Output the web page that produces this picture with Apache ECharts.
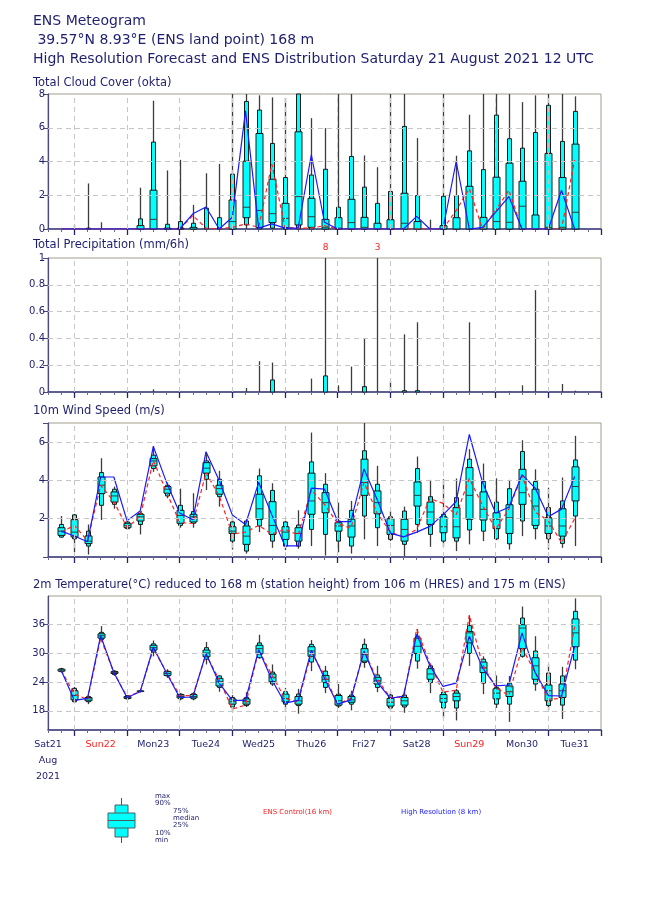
<!DOCTYPE html>
<html><head><meta charset="utf-8">
<script src="https://cdn.jsdelivr.net/npm/echarts@6/dist/echarts.min.js"></script>
<style>html,body{margin:0;padding:0;background:#fff}#c{width:650px;height:916px}</style>
</head><body><div id="c"></div>
<script>
// ---- data (hours after Sat 21 Aug 2021 12 UTC) ----
const steps = [6,12,18,24,30,36,42,48,54,60,66,72,78,84,90,96,102,108,114,120,126,132,138,144,150,156,162,168,174,180,186,192,198,204,210,216,222,228,234,240];
const dayLabelPos = [0,24,48,72,96,120,144,168,192,216,240];
const dayLabels = ['Sat21','Sun22','Mon23','Tue24','Wed25','Thu26','Fri27','Sat28','Sun29','Mon30','Tue31'];
const midnights = [12,36,60,84,108,132,156,180,204,228,252];

const cloudMax = [0,0.24,2.7,0.4,0,0,2.45,7.6,3.47,4.1,1.43,3.3,3.86,8,8,7.92,7.8,7.76,8,6.57,5.98,8,8,4.36,3.66,8,8,5.39,0.55,8,4.34,6.77,8,8,8,7.52,7.92,8,8,7.86];
const cloudP90 = [0,0,0.05,0,0,0,0.6,5.15,0.28,0.44,0.34,1.23,0.67,3.25,7.56,7.05,5.07,3.05,8,3.2,3.54,1.29,4.3,2.48,1.52,2.22,6.08,1.98,0,1.94,1.98,4.63,3.52,6.75,5.35,4.79,5.72,7.33,5.19,6.97];
const cloudP75 = [0,0,0,0,0,0,0.2,2.3,0.05,0.05,0.1,0,0,1.72,4.02,5.66,2.95,1.52,5.76,1.82,0.57,0.67,1.76,0.69,0.34,0.55,2.12,0.44,0,0.2,0.67,2.53,0.69,3.07,3.9,2.83,0.83,4.48,3.05,5.03];
const cloudMed = [0,0,0,0,0,0,0,0.57,0,0,0,0,0,0.44,1.29,1.1,0.91,0.63,1.92,0.73,0.1,0.05,0.38,0.1,0,0,0.34,0,0,0,0,0,0,0.44,0.4,1.35,0,0.1,0.1,0.99];
const cloudP25 = [0,0,0,0,0,0,0,0,0,0,0,0,0,0,0.67,0.08,0.38,0.08,0.24,0.1,0,0,0,0,0,0,0,0,0,0,0,0,0,0,0,0,0,0,0,0];
const cloudP10 = [0,0,0,0,0,0,0,0,0,0,0,0,0,0,0.24,0,0.05,0,0,0,0,0,0,0,0,0,0,0,0,0,0,0,0,0,0,0,0,0,0,0];
const cloudMin = [0,0,0,0,0,0,0,0,0,0,0,0,0,0,0,0,0,0,0,0,0,0,0,0,0,0,0,0,0,0,0,0,0,0,0,0,0,0,0,0];
const cloudHres = [0,0,0,0,0,0,0,0,0,0,0.9,1.3,0,0.7,7.0,0.05,0.3,0.05,0.05,4.4,0.4,0,0,0,0,0,0,0.75,0,0,4.0,0,0.1,1.0,1.92,0,0,0,2.3,0];
const cloudCtrl = [0,0,0,0,0,0,0,0,0,0,0.8,0.05,0,0.1,0.3,0.1,3.85,0.1,0.05,0.05,0.2,0,0,0,0,0,0,0,0,0,1.1,2.4,0,1.1,2.3,0,0,0,0,4.1];

const precipMax = [0,0,0,0,0,0,0,0.02,0,0,0,0,0,0,0.03,0.23,0.22,0.01,0,0.1,8,0.05,0.19,0.4,3,0.08,0.43,0.52,0.005,0,0,0.52,0,0,0.005,0.05,0.76,0,0.06,0.01];
const precipP90 = [0,0,0,0,0,0,0,0,0,0,0,0,0,0,0,0,0.09,0,0,0,0.12,0,0,0.04,0,0,0.01,0.01,0,0,0,0,0,0,0,0,0,0,0,0];
const precipZero = [0,0,0,0,0,0,0,0,0,0,0,0,0,0,0,0,0,0,0,0,0,0,0,0,0,0,0,0,0,0,0,0,0,0,0,0,0,0,0,0];

const windMax = [2.14,2.25,1.7,5.16,3.68,1.93,2.37,5.8,3.89,3.57,3.33,5.37,4.5,2.17,1.97,4.62,3.85,1.88,2.44,6.5,4.38,2.84,2.93,7.2,4.76,2.4,2.63,5.25,4.03,4.06,4.1,5.63,4.88,4.11,4.03,6.1,4.58,3.62,4.15,6.33];
const windP90 = [1.7,2.2,1.35,4.41,3.54,1.83,2.28,5.32,3.75,2.7,2.37,5.02,4.06,1.83,1.88,4.24,3.48,1.83,1.67,4.97,3.8,1.88,2.44,5.55,3.8,2.1,2.4,4.62,3.15,2.23,3.1,5.11,3.94,2.87,3.57,5.51,3.94,2.58,2.93,5.07];
const windP75 = [1.53,1.95,1.1,4.18,3.4,1.76,2.23,5.14,3.68,2.44,2.23,4.93,3.75,1.58,1.62,3.28,2.89,1.58,1.53,4.38,3.36,1.79,1.97,5.11,3.45,2.0,1.97,3.92,2.87,2.1,2.58,4.67,3.4,2.31,2.73,4.58,3.54,2.05,2.52,4.71];
const windMed = [1.35,1.3,0.83,3.75,3.19,1.65,2.1,5.02,3.54,2.17,2.1,4.64,3.57,1.35,1.09,2.52,1.65,1.3,1.23,2.93,2.84,1.62,1.62,3.89,2.84,1.65,1.44,3.22,2.35,1.58,1.58,3.22,2.49,1.97,2.05,3.36,2.66,1.62,1.62,3.68];
const windP25 = [1.13,1.05,0.7,3.31,2.87,1.53,1.88,4.76,3.33,1.76,1.83,4.38,3.28,1.23,0.66,1.97,1.18,0.92,0.83,2.23,2.31,1.35,1.04,3.22,2.26,1.18,0.83,2.66,1.7,1.27,1.0,1.97,1.93,1.48,1.23,2.75,1.65,1.23,1.09,2.93];
const windP10 = [1.04,0.95,0.57,2.7,2.75,1.48,1.7,4.62,3.19,1.65,1.76,4.06,3.15,0.83,0.31,1.62,0.83,0.57,0.57,1.44,1.18,0.83,0.57,2.14,1.53,0.92,0.66,1.7,1.18,0.83,0.83,1.41,1.35,0.95,0.69,1.88,1.48,0.95,0.71,2.14];
const windMin = [1.0,0.25,0.13,1.93,2.52,1.44,1.18,4.45,3.07,1.53,1.53,3.5,2.63,0.39,0.18,1.3,0.48,0.36,0.43,0.57,0.08,0.25,0.18,0.92,0.57,0.83,0.04,1.27,0.53,0.53,0.31,0.66,0.83,0.88,0.39,1.09,0.92,0.39,0.48,0.57];
const windHres = [1.35,1.1,0.8,4.18,4.18,1.9,2.4,5.78,3.9,2.3,1.95,5.5,4.0,2.2,1.7,3.9,2.2,0.58,0.58,3.6,3.55,1.85,1.85,4.6,3.0,1.25,1.05,1.3,1.6,2.2,2.9,6.4,3.9,2.3,2.6,4.3,3.6,2.1,2.5,4.2];
const windCtrl = [1.3,1.65,0.85,3.75,2.9,1.55,2.1,5.05,3.4,1.8,1.75,4.4,3.2,1.2,1.3,1.65,1.2,1.45,1.15,3.5,2.75,1.75,1.5,3.9,2.3,1.3,1.05,1.45,3.05,2.8,2.2,4.1,2.7,1.45,2.5,4.25,2.35,1.9,0.75,2.0];

const tempMax = [27.0,23.0,21.2,35.7,26.5,21.3,22.3,32.7,26.7,21.7,21.9,32.4,25.4,21.3,21.9,33.9,27.7,22.8,22.6,32.8,27.4,23.6,22.2,33.1,27.4,22.0,22.2,35.1,27.9,22.7,22.6,37.9,29.4,25.4,25.3,39.8,33.6,27.7,27.2,41.5];
const tempP90 = [26.8,22.7,21.0,34.4,26.3,21.2,22.2,32.0,26.3,21.5,21.6,31.2,25.3,20.8,20.8,32.2,26.1,22.0,21.5,31.9,26.3,21.5,21.3,31.9,25.5,21.3,21.3,33.6,27.4,21.9,22.2,35.8,28.8,22.9,23.8,37.4,30.5,25.9,25.3,38.8];
const tempP75 = [26.7,22.2,20.8,34.1,26.2,21.0,22.15,31.7,26.2,21.4,21.4,30.7,24.8,20.5,20.5,31.7,25.7,21.5,21.0,31.4,25.4,21.2,21.0,31.0,25.0,20.6,20.8,33.2,26.8,21.4,21.7,34.6,28.2,22.6,23.2,36.0,29.1,23.4,23.6,37.2];
const tempMed = [26.55,21.2,20.5,33.7,26.0,20.8,22.1,31.2,25.8,21.0,21.0,30.1,24.1,19.9,19.9,31.0,25.0,20.6,20.1,30.5,24.6,20.1,20.3,29.8,24.3,19.8,20.1,31.5,25.7,20.6,21.0,34.3,27.0,21.7,22.0,35.3,27.4,22.2,22.2,34.3];
const tempP25 = [26.3,20.3,20.1,33.2,25.8,20.6,22.05,30.7,25.4,20.7,20.7,29.3,23.2,19.4,19.4,29.9,24.1,19.9,19.4,29.4,23.9,19.2,19.8,28.4,23.6,19.0,19.2,30.0,24.6,19.8,20.1,32.2,26.0,20.5,21.0,31.0,24.6,20.1,20.8,31.4];
const tempP10 = [26.2,19.9,19.9,32.9,25.6,20.5,22.0,30.3,25.3,20.5,20.5,28.8,22.9,18.8,19.1,29.1,23.6,19.4,19.1,28.2,22.9,19.0,19.4,28.1,22.9,18.6,18.8,28.4,23.9,18.6,18.6,30.0,23.8,19.4,19.4,29.4,23.6,19.1,19.2,28.6];
const tempMin = [26.0,19.6,19.4,32.5,25.3,20.3,21.9,29.4,24.9,20.2,20.2,27.7,22.0,17.7,18.8,28.9,23.2,18.1,17.4,26.3,21.7,18.6,18.1,27.0,21.9,18.1,17.6,26.8,21.7,16.5,16.0,27.4,21.5,18.6,15.7,29.1,22.2,18.1,16.3,26.7];
const tempHres = [26.5,20.2,20.6,33.7,26.0,20.8,22.0,31.3,25.9,20.8,20.9,30.0,23.8,20.2,20.2,30.8,24.5,19.6,20.2,30.7,24.8,19.4,20.3,30.5,24.0,20.6,21.1,34.0,27.5,23.1,23.8,33.6,27.0,23.2,23.4,34.3,26.0,21.2,21.1,31.5];
const tempCtrl = [26.5,21.5,20.4,33.2,26.0,21.0,22.0,31.0,26.1,21.2,21.2,29.8,24.5,18.4,19.2,30.7,25.5,20.6,19.8,30.2,25.5,19.4,20.6,30.5,24.6,20.8,20.8,35.1,27.9,21.9,22.3,38.0,27.7,22.9,21.2,31.2,26.0,20.4,20.6,35.6];

const cloudGrid = [2,4,6], precipGrid = [0.2,0.4,0.6,0.8], windGrid = [2,4,6], tempGrid = [18,24,30,36];

// ---- styling / build ----
const NAVY = '#1e1e6e';
const FRAME = '#a39d8b';
const GRIDC = '#c6c6c6';
const panels = [
  {top:94, height:135, min:0, max:8, interval:2, hlines:cloudGrid,
   q:[cloudMin,cloudP10,cloudP25,cloudMed,cloudP75,cloudP90,cloudMax], hres:cloudHres, ctrl:cloudCtrl,
   fmt:v=>String(v)},
  {top:258, height:134, min:0, max:1, interval:0.2, hlines:precipGrid,
   q:[precipZero,precipZero,precipZero,precipZero,precipZero,precipP90,precipMax], hres:null, ctrl:null,
   fmt:v=>(v===0?'0':(Math.abs(v-1)<1e-9?'1':v.toFixed(1)))},
  {top:423, height:134, min:0, max:7, interval:2, hlines:windGrid,
   q:[windMin,windP10,windP25,windMed,windP75,windP90,windMax], hres:windHres, ctrl:windCtrl,
   fmt:v=>((v===0||v>6.5)?'':String(v))},
  {top:596, height:134, min:14, max:42, interval:2, hlines:tempGrid, custom:tempGrid,
   q:[tempMin,tempP10,tempP25,tempMed,tempP75,tempP90,tempMax], hres:tempHres, ctrl:tempCtrl,
   fmt:v=>(tempGrid.indexOf(v)>=0?String(v):'')}
];

function boxItem(axisMax, overLabel){
  return function(params, api){
    const t = api.value(0);
    const cs = params.coordSys;
    const top = cs.y, bot = cs.y + cs.height;
    const Y = v => Math.max(top, Math.min(bot, api.coord([t, v])[1]));
    const x = Math.round(api.coord([t, 0])[0]) + 0.5;
    const v = [1,2,3,4,5,6,7].map(i => api.value(i));
    const ch = [];
    if (v[6] > v[0]) ch.push({type:'line', shape:{x1:x,y1:Y(v[0]),x2:x,y2:Y(v[6])}, style:{stroke:'#3c3c3c', lineWidth:1.3}});
    if (v[5] > v[1]) ch.push({type:'rect', shape:{x:x-2,y:Y(v[5]),width:4,height:Y(v[1])-Y(v[5])}, style:{fill:'#00ffff', stroke:'#1a1a1a', lineWidth:1}});
    if (v[4] > v[2]) ch.push({type:'rect', shape:{x:x-3.5,y:Y(v[4]),width:7,height:Y(v[2])-Y(v[4])}, style:{fill:'#00ffff', stroke:'#1a1a1a', lineWidth:1}});
    if (v[4] > v[2] && v[3] > v[2] && v[3] < v[4]) ch.push({type:'line', shape:{x1:x-3.5,y1:Y(v[3]),x2:x+3.5,y2:Y(v[3])}, style:{stroke:'#2a4040', lineWidth:1}});
    if (overLabel && v[6] > axisMax) ch.push({type:'text', style:{text:String(v[6]), x:x, y:top-10, fill:'#ff2020', font:'9px "DejaVu Sans"', align:'center', verticalAlign:'middle', textAlign:'center', textVerticalAlign:'middle'}});
    return {type:'group', children:ch};
  };
}

const grid=[], xAxis=[], yAxis=[], series=[];
panels.forEach((p,g)=>{
  grid.push({left:48, top:p.top, width:553, height:p.height, show:true, borderColor:FRAME, borderWidth:1, backgroundColor:'#fff', containLabel:false});
  xAxis.push({type:'value', gridIndex:g, min:0, max:252, interval:6, position:'bottom',
    axisLine:{show:true, onZero:false, lineStyle:{color:'#3a3a80', width:1.5}},
    axisTick:{show:true, length:3, lineStyle:{color:'#6a6a9a', width:1}},
    axisLabel:{show:g===3, margin:7, fontFamily:'DejaVu Sans', fontSize:9.5, color:NAVY, lineHeight:16,
      formatter:v=>{const i=dayLabelPos.indexOf(v); if(i<0) return ''; const s=dayLabels[i];
        const tag = s.indexOf('Sun')===0 ? 'r' : 'n';
        return i===0 ? '{n|'+s+'}\n{n|Aug}\n{n|2021}' : '{'+tag+'|'+s+'}';},
      rich:{n:{color:NAVY, fontSize:9.5, fontFamily:'DejaVu Sans', lineHeight:16}, r:{color:'#ff2020', fontSize:9.5, fontFamily:'DejaVu Sans', lineHeight:16}}},
    splitLine:{show:false}});
  yAxis.push({type:'value', gridIndex:g, min:p.min, max:p.max, interval:p.interval,
    axisLine:{show:true, onZero:false, lineStyle:{color:'#4a4a82', width:1.2}},
    axisTick:{show:true, length:5, lineStyle:{color:'#4a4a82'}, customValues:p.custom},
    axisLabel:{show:true, margin:3, fontFamily:'DejaVu Sans', fontSize:10, color:NAVY, formatter:p.fmt, customValues:p.custom},
    splitLine:{show:false}});
});
panels.forEach((p,g)=>{
  xAxis.push({type:'value', gridIndex:g, min:0, max:252, position:'bottom',
    axisLine:{show:false}, axisLabel:{show:false}, splitLine:{show:false},
    axisTick:{show:true, length:6, customValues:midnights, lineStyle:{color:'#24246e', width:1.3}}});
});

panels.forEach((p,g)=>{
  // grid lines
  series.push({type:'line', xAxisIndex:g, yAxisIndex:g, data:[], z:1, silent:true,
    markLine:{silent:true, symbol:['none','none'], label:{show:false}, animation:false,
      lineStyle:{type:[5,4], color:GRIDC, width:1},
      data: midnights.slice(0,-1).map(v=>({xAxis:v})).concat(p.hlines.map(v=>({yAxis:v})))}});
  const rows = steps.map((t,i)=>[t].concat(p.q.map(a=>a[i])));
  series.push({type:'custom', xAxisIndex:g, yAxisIndex:g, z:2, clip:false,
    renderItem: boxItem(p.max, g===1), encode:{x:0, y:[1,7]}, data:rows});
  if (p.ctrl) series.push({type:'line', xAxisIndex:g, yAxisIndex:g, z:3, symbol:'none',
    lineStyle:{color:'#ff2020', width:1.2, type:[4,3]}, data:steps.map((t,i)=>[t,p.ctrl[i]])});
  if (p.hres) series.push({type:'line', xAxisIndex:g, yAxisIndex:g, z:4, symbol:'none',
    lineStyle:{color:'#1a1aff', width:1.2}, data:steps.map((t,i)=>[t,p.hres[i]])});
});

function txt(text, x, y, size, color, align){
  return {type:'text', z:10, style:{text:text, x:x, y:y, fill:color, font:size+'px "DejaVu Sans"',
    align:align||'left', textAlign:align||'left', verticalAlign:'middle', textVerticalAlign:'middle'}};
}
const graphic = [
  txt('ENS Meteogram', 33, 21, 14, NAVY),
  txt(' 39.57°N 8.93°E (ENS land point) 168 m', 33, 40, 14, NAVY),
  txt('High Resolution Forecast and ENS Distribution Saturday 21 August 2021 12 UTC', 33, 59, 14, NAVY),
  txt('Total Cloud Cover (okta)', 33, 83, 11.5, NAVY),
  txt('Total Precipitation (mm/6h)', 33, 245, 11.5, NAVY),
  txt('10m Wind Speed (m/s)', 33, 411, 11.5, NAVY),
  txt('2m Temperature(°C) reduced to 168 m (station height) from 106 m (HRES) and 175 m (ENS)', 33, 585, 11.5, NAVY),
  // legend glyph
  {type:'line', z:10, shape:{x1:121.5,y1:798,x2:121.5,y2:843}, style:{stroke:'#555', lineWidth:1}},
  {type:'rect', z:10, shape:{x:115,y:805,width:13,height:32}, style:{fill:'#00ffff', stroke:'#4a6060', lineWidth:1}},
  {type:'rect', z:11, shape:{x:108,y:813,width:27,height:15}, style:{fill:'#00ffff', stroke:'#4a6060', lineWidth:1}},
  {type:'line', z:12, shape:{x1:108,y1:820.5,x2:135,y2:820.5}, style:{stroke:'#4a6060', lineWidth:1}},
  txt('max', 155, 796, 7, NAVY), txt('90%', 155, 803, 7, NAVY),
  txt('75%', 173, 811, 7, NAVY), txt('median', 173, 818, 7, NAVY), txt('25%', 173, 825, 7, NAVY),
  txt('10%', 155, 833, 7, NAVY), txt('min', 155, 840, 7, NAVY),
  txt('ENS Control(16 km)', 263, 812, 7, '#ff2020'),
  txt('High Resolution (8 km)', 401, 812, 7, '#2020ff')
];

const chart = echarts.init(document.getElementById('c'), null, {renderer:'canvas'});
chart.setOption({animation:false, backgroundColor:'#fff', grid, xAxis, yAxis, series, graphic});
</script></body></html>
